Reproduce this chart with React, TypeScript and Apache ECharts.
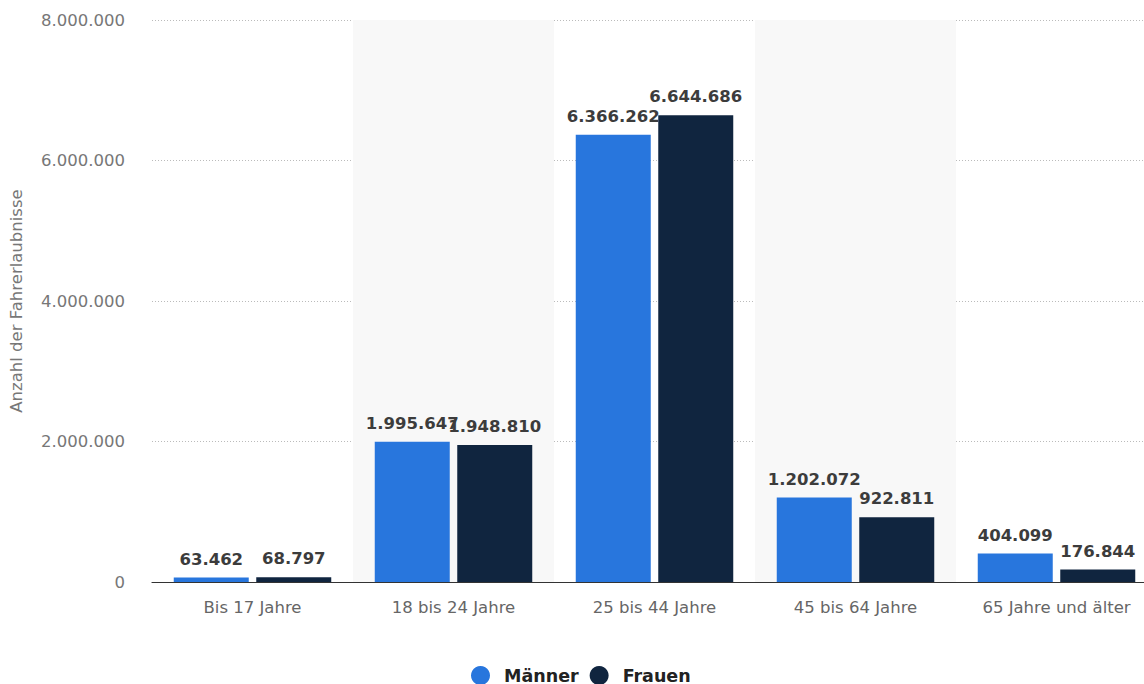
import React, { useEffect, useRef } from "react";
import * as echarts from "echarts";

const categories = ["Bis 17 Jahre", "18 bis 24 Jahre", "25 bis 44 Jahre", "45 bis 64 Jahre", "65 Jahre und älter"];
const maenner = [63462, 1995647, 6366262, 1202072, 404099];
const frauen = [68797, 1948810, 6644686, 922811, 176844];
const seriesNames = ["Männer", "Frauen"];
const yMax = 8000000;
const yInterval = 2000000;

const fmt = (v: number) => Math.round(v).toString().replace(/\B(?=(\d{3})+(?!\d))/g, ".");

export default function App() {
  const ref = useRef<HTMLDivElement>(null);
  useEffect(() => {
    if (!ref.current) return;
    const chart = echarts.init(ref.current, undefined, { renderer: "svg" });
    const labelStyle = {
      show: true,
      position: "top" as const,
      distance: 10,
      formatter: (p: any) => fmt(p.value),
      fontFamily: "DejaVu Sans",
      fontWeight: "bold" as const,
      fontSize: 16.5,
      color: "#3c3c3c",
    };
    chart.setOption({
      animation: false,
      backgroundColor: "#ffffff",
      grid: { left: 152, right: 0, top: 20, bottom: 102, containLabel: false },
      legend: {
        bottom: -6,
        left: 466,
        icon: "circle",
        itemWidth: 19,
        itemHeight: 19,
        itemGap: 11,
        textStyle: {
          fontFamily: "DejaVu Sans",
          fontWeight: "bold",
          fontSize: 17.5,
          color: "#222",
          padding: [0, 0, 0, 9],
        },
        data: seriesNames,
      },
      xAxis: {
        type: "category",
        data: categories,
        axisLine: { lineStyle: { color: "#333", width: 1.2 } },
        axisTick: { show: false },
        axisLabel: { fontFamily: "DejaVu Sans", fontSize: 16.5, color: "#666", margin: 17 },
        splitArea: { show: true, areaStyle: { color: ["rgba(255,255,255,0)", "#f8f8f8"] } },
      },
      yAxis: {
        type: "value",
        min: 0,
        max: yMax,
        interval: yInterval,
        name: "Anzahl der Fahrerlaubnisse",
        nameLocation: "middle",
        nameGap: 127,
        nameTextStyle: { fontFamily: "DejaVu Sans", fontSize: 16.5, color: "#777" },
        axisLabel: { fontFamily: "DejaVu Sans", fontSize: 16.5, color: "#777", margin: 27, formatter: (v: number) => fmt(v) },
        axisLine: { show: false },
        axisTick: { show: false },
        splitLine: { lineStyle: { type: [1, 2], color: "#bbb" } },
      },
      series: [
        {
          name: seriesNames[0],
          type: "bar",
          data: maenner,
          barWidth: 75,
          barGap: "10%",
          itemStyle: { color: "#2876dd" },
          label: labelStyle,
        },
        {
          name: seriesNames[1],
          type: "bar",
          data: frauen,
          barWidth: 75,
          barGap: "10%",
          itemStyle: { color: "#10253f" },
          label: labelStyle,
        },
      ],
    });
    return () => chart.dispose();
  }, []);
  return (
    <div style={{ position: "fixed", left: 0, top: 0, width: 1144, height: 684, overflow: "hidden", background: "#fff" }}>
      <div ref={ref} style={{ width: 1157, height: 684 }} />
    </div>
  );
}
